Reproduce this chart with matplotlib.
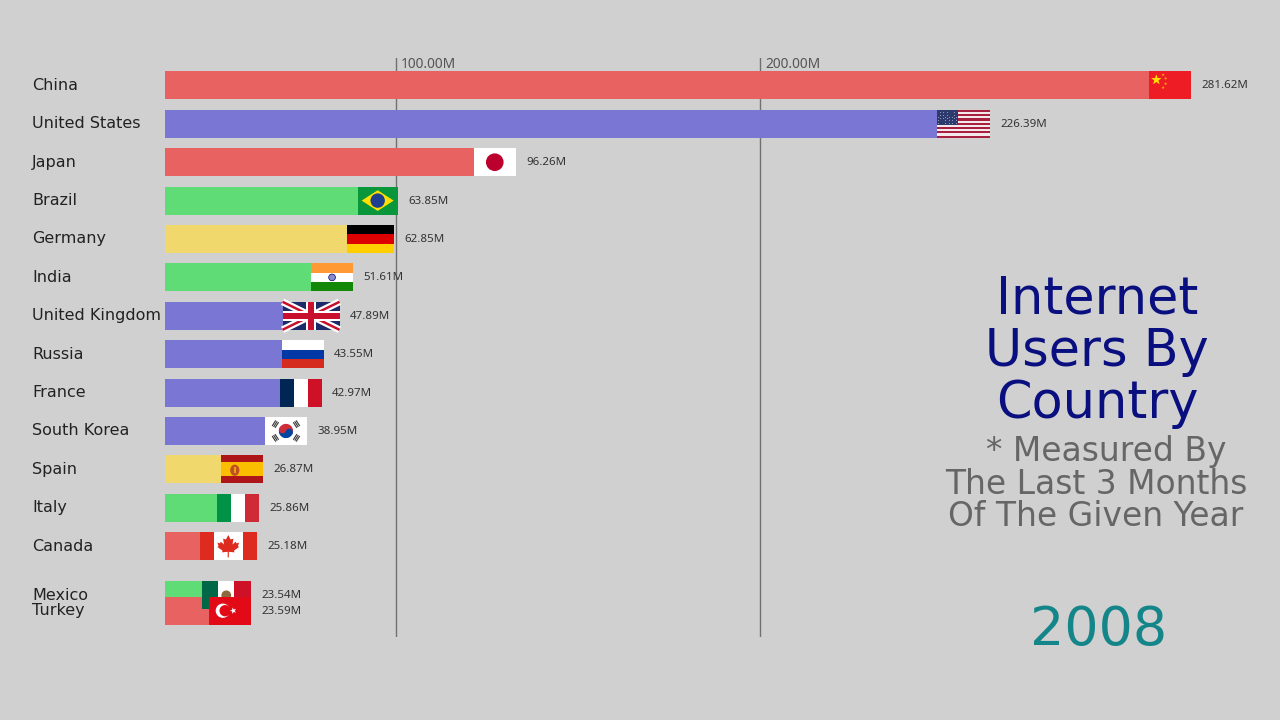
#%%
import numpy as np
import matplotlib
matplotlib.use('Agg')
import matplotlib.pyplot as plt
from matplotlib.patches import Rectangle, Circle, Polygon, Wedge, Ellipse
from matplotlib.transforms import Affine2D

countries = ['China', 'United States', 'Japan', 'Brazil', 'Germany', 'India', 'United Kingdom',
             'Russia', 'France', 'South Korea', 'Spain', 'Italy', 'Canada', 'Mexico', 'Turkey']
values = [281.62, 226.39, 96.26, 63.85, 62.85, 51.61, 47.89, 43.55, 42.97, 38.95, 26.87, 25.86, 25.18, 23.54, 23.59]
# the frame is caught mid animation, so the last two rows sit between ranks
ranks = [0, 1, 2, 3, 4, 5, 6, 7, 8, 9, 10, 11, 12, 13.28, 13.68]
groups = ['r', 'b', 'r', 'g', 'y', 'g', 'b', 'b', 'b', 'b', 'y', 'g', 'r', 'g', 'r']
flag_px = [42, 53, 42, 40, 47, 42, 57, 42, 42, 42, 42, 42, 57, 49, 42]

# gridlines lag behind the bar scale too
grid_pos = [63.4, 163.3]
grid_labels = ['100.00M', '200.00M']

title_lines = 'Internet\nUsers By\nCountry'
note_lines = '  * Measured By\nThe Last 3 Months\nOf The Given Year'
year = '2008'

colors = {'r': '#e96262', 'b': '#7a76d4', 'g': '#60dc76', 'y': '#f1d86d'}
bg = '#d0d0d0'
W, H = 1280, 720
PX_PER_M = 3.644
ROW = 38.4
BAR_H = 28 / ROW
TOP_ROW = 85.4

plt.rcParams['font.family'] = 'Noto Sans'


def stripes_h(ax, tr, cols):
    n = len(cols)
    for i, c in enumerate(cols):
        ax.add_patch(Rectangle((0, i / n), 1, 1 / n, fc=c, ec='none', transform=tr, zorder=3))


def stripes_v(ax, tr, cols):
    n = len(cols)
    for i, c in enumerate(cols):
        ax.add_patch(Rectangle((i / n, 0), 1 / n, 1, fc=c, ec='none', transform=tr, zorder=3))


def box(ax, tr, x, y, w, h, c, z=3):
    ax.add_patch(Rectangle((x, y), w, h, fc=c, ec='none', transform=tr, zorder=z))


def poly(ax, tr, pts, c, z=3):
    ax.add_patch(Polygon(pts, closed=True, fc=c, ec='none', transform=tr, zorder=z))


def star(cx, cy, rx, ry, start=-np.pi / 2):
    a = start + np.arange(10) * np.pi / 5
    r = np.where(np.arange(10) % 2 == 0, 1, 0.4)
    return np.c_[cx + rx * r * np.cos(a), cy + ry * r * np.sin(a)]


def square(tr, asp):
    # keeps circles round inside a flag that is not square
    return Affine2D().scale(1, asp).translate(0, 0.5 - 0.5 * asp) + tr


def flag_china(ax, tr, asp):
    box(ax, tr, 0, 0, 1, 1, '#ee1c25')
    poly(ax, tr, star(0.17, 0.3, 0.13, 0.13 * asp), '#ffe000')
    for x, y in [(0.33, 0.12), (0.39, 0.25), (0.39, 0.44), (0.33, 0.58)]:
        poly(ax, tr, star(x, y, 0.04, 0.04 * asp), '#f7b000')


def flag_usa(ax, tr, asp):
    stripes_h(ax, tr, ['#a8203f' if i % 2 == 0 else '#f4e8ea' for i in range(13)])
    box(ax, tr, 0, 0, 0.4, 7 / 13, '#2c3a6e')
    for i in range(9):
        for j in range(11):
            if (i + j) % 2 == 0:
                box(ax, tr, 0.02 + j * 0.034, 0.035 + i * 0.055, 0.015, 0.022, '#8f96b8')


def flag_japan(ax, tr, asp):
    box(ax, tr, 0, 0, 1, 1, '#ffffff')
    ax.add_patch(Circle((0.5, 0.5), 0.21, fc='#bc002d', ec='none', zorder=3, transform=square(tr, asp)))


def flag_brazil(ax, tr, asp):
    box(ax, tr, 0, 0, 1, 1, '#0a963a')
    poly(ax, tr, [(0.1, 0.5), (0.5, 0.13), (0.9, 0.5), (0.5, 0.87)], '#fedf00')
    ax.add_patch(Circle((0.5, 0.5), 0.18, fc='#1e3f8f', ec='none', zorder=3, transform=square(tr, asp)))


def flag_korea(ax, tr, asp):
    box(ax, tr, 0, 0, 1, 1, '#ffffff')
    t = square(tr, asp)
    ax.add_patch(Wedge((0.5, 0.5), 0.17, 20, 200, fc='#0047a0', ec='none', zorder=3, transform=t))
    ax.add_patch(Wedge((0.5, 0.5), 0.17, 200, 20, fc='#cd2e3a', ec='none', zorder=3, transform=t))
    th = np.deg2rad(20)
    d = 0.085 * np.array([np.cos(th), np.sin(th)])
    ax.add_patch(Circle((0.5 + d[0], 0.5 + d[1]), 0.085, fc='#0047a0', ec='none', zorder=3, transform=t))
    ax.add_patch(Circle((0.5 - d[0], 0.5 - d[1]), 0.085, fc='#cd2e3a', ec='none', zorder=3, transform=t))
    for deg in [33, 147, 213, 327]:
        u = np.array([np.cos(np.deg2rad(deg)), np.sin(np.deg2rad(deg))])
        n = np.array([-u[1], u[0]])
        for rad in [0.26, 0.3, 0.34]:
            c = 0.5 + u * rad
            pts = [c + n * 0.08 + u * 0.014, c - n * 0.08 + u * 0.014, c - n * 0.08 - u * 0.014, c + n * 0.08 - u * 0.014]
            poly(ax, t, pts, '#3c3c3c')


def flag_uk(ax, tr, asp):
    box(ax, tr, 0, 0, 1, 1, '#1b2a68')
    for a, b in [((0, 0), (1, 1)), ((0, 1), (1, 0))]:
        ax.plot([a[0], b[0]], [a[1], b[1]], color='white', lw=5, transform=tr, zorder=3, solid_capstyle='butt')
        ax.plot([a[0], b[0]], [a[1], b[1]], color='#c8102e', lw=1.8, transform=tr, zorder=3, solid_capstyle='butt')
    box(ax, tr, 0.41, 0, 0.18, 1, '#ffffff')
    box(ax, tr, 0, 0.32, 1, 0.36, '#ffffff')
    box(ax, tr, 0.45, 0, 0.1, 1, '#c8102e')
    box(ax, tr, 0, 0.4, 1, 0.2, '#c8102e')


def flag_spain(ax, tr, asp):
    box(ax, tr, 0, 0, 1, 1, '#ad1519')
    box(ax, tr, 0, 0.25, 1, 0.5, '#fabd00')
    ax.add_patch(Ellipse((0.33, 0.53), 0.22, 0.4, fc='#c0501f', ec='none', zorder=3, transform=tr))
    box(ax, tr, 0.3, 0.42, 0.06, 0.22, '#e8a020')


def flag_india(ax, tr, asp):
    stripes_h(ax, tr, ['#ff9933', '#ffffff', '#138808'])
    ax.add_patch(Circle((0.5, 0.5), 0.08, fc='#8a8ac8', ec='#000080', lw=0.5, zorder=3, transform=square(tr, asp)))


def flag_canada(ax, tr, asp):
    stripes_v(ax, tr, ['#dd2c1f', '#ffffff', '#ffffff', '#dd2c1f'])
    leaf = [(0.5, 0.1), (0.54, 0.26), (0.59, 0.23), (0.575, 0.44), (0.63, 0.34), (0.645, 0.4), (0.69, 0.37),
            (0.67, 0.5), (0.69, 0.53), (0.6, 0.66), (0.61, 0.72), (0.51, 0.7), (0.51, 0.9), (0.49, 0.9),
            (0.49, 0.7), (0.39, 0.72), (0.4, 0.66), (0.31, 0.53), (0.33, 0.5), (0.31, 0.37), (0.355, 0.4),
            (0.37, 0.34), (0.425, 0.44), (0.41, 0.23), (0.46, 0.26)]
    poly(ax, tr, leaf, '#dd2c1f')


def flag_mexico(ax, tr, asp):
    stripes_v(ax, tr, ['#006847', '#ffffff', '#ce1126'])
    ax.add_patch(Circle((0.5, 0.5), 0.1, fc='#8c6a3f', ec='none', zorder=3, transform=square(tr, asp)))


def flag_turkey(ax, tr, asp):
    box(ax, tr, 0, 0, 1, 1, '#e30a17')
    t = square(tr, asp)
    ax.add_patch(Circle((0.33, 0.5), 0.17, fc='#ffffff', ec='none', zorder=3, transform=t))
    ax.add_patch(Circle((0.385, 0.5), 0.135, fc='#e30a17', ec='none', zorder=3, transform=t))
    poly(ax, tr, star(0.58, 0.5, 0.08, 0.08 * asp, np.pi), '#ffffff')


flags = {
    'China': flag_china,
    'United States': flag_usa,
    'Japan': flag_japan,
    'Brazil': flag_brazil,
    'Germany': lambda ax, tr, asp: stripes_h(ax, tr, ['#000000', '#dd0000', '#ffce00']),
    'India': flag_india,
    'United Kingdom': flag_uk,
    'Russia': lambda ax, tr, asp: stripes_h(ax, tr, ['#ffffff', '#0039a6', '#d52b1e']),
    'France': lambda ax, tr, asp: stripes_v(ax, tr, ['#002654', '#ffffff', '#ce1126']),
    'South Korea': flag_korea,
    'Spain': flag_spain,
    'Italy': lambda ax, tr, asp: stripes_v(ax, tr, ['#009246', '#ffffff', '#ce2b37']),
    'Canada': flag_canada,
    'Mexico': flag_mexico,
    'Turkey': flag_turkey,
}

#%%
fig = plt.figure(figsize=(W / 100, H / 100), dpi=100, facecolor=bg)
ax = fig.add_axes([165 / W, 1 - 637 / H, (W - 165) / W, (637 - 58) / H])
ax.set_facecolor('none')
for s in ax.spines.values():
    s.set_visible(False)
ax.set_xlim(0, (W - 165) / PX_PER_M)
ax.set_ylim((637 - TOP_ROW) / ROW, (58 - TOP_ROW) / ROW)

ax.barh(ranks, values, height=BAR_H, color=[colors[g] for g in groups], zorder=2)

ax.set_xticks(grid_pos)
ax.set_xticklabels([])
ax.set_yticks([])
ax.tick_params(axis='x', length=0)
ax.grid(axis='x', color='#707070', lw=1)
ax.set_axisbelow(True)
for p, lab in zip(grid_pos, grid_labels):
    ax.annotate(lab, (p, 1), xycoords=('data', 'axes fraction'), xytext=(5, -6), textcoords='offset pixels',
                ha='left', va='center', fontsize=9.9, color='#555555')

for i, c in enumerate(countries):
    v, r = values[i], ranks[i]
    fw = flag_px[i] / PX_PER_M
    tr = Affine2D().scale(fw, BAR_H).translate(v - fw, r - BAR_H / 2) + ax.transData
    flags[c](ax, tr, flag_px[i] / 28)
    ax.annotate('%.2fM' % v, (v, r), xytext=(10.5, -0.5), textcoords='offset pixels', ha='left', va='center',
                fontsize=8.3, color='#333333', zorder=7)
    ax.annotate(c, (0, r), xytext=(-133, 0), textcoords='offset pixels', ha='left', va='center',
                fontsize=11.5, color='#222222', family='DejaVu Sans', annotation_clip=False)

fig.text(1097 / W, 1 - 352 / H, title_lines, ha='center', va='center', fontsize=36.6, color='#0a0f80',
         family='DejaVu Sans', linespacing=1.06)
fig.text(1096 / W, 1 - 484 / H, note_lines, ha='center', va='center', fontsize=23.7, color='#666666',
         family='DejaVu Sans', linespacing=1.0)
fig.text(1099 / W, 1 - 630 / H, year, ha='center', va='center', fontsize=38.8, color='#14868a',
         family='DejaVu Sans')

fig.savefig('out.png', dpi=100, facecolor=bg)
